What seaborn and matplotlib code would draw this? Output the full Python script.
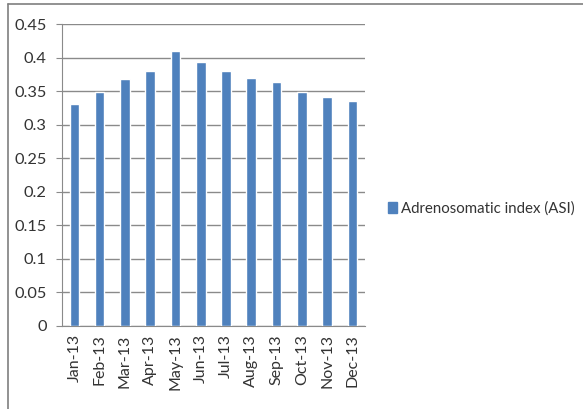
import matplotlib
matplotlib.use("Agg")
import matplotlib.pyplot as plt
import seaborn as sns
import pandas as pd
from matplotlib.lines import Line2D
from matplotlib.patches import Patch

months = ["Jan-13", "Feb-13", "Mar-13", "Apr-13", "May-13", "Jun-13",
          "Jul-13", "Aug-13", "Sep-13", "Oct-13", "Nov-13", "Dec-13"]
asi = [0.331, 0.349, 0.368, 0.380, 0.410, 0.394,
       0.380, 0.369, 0.363, 0.349, 0.341, 0.336]
series_name = "Adrenosomatic index (ASI)"
yticks = [0, 0.05, 0.1, 0.15, 0.2, 0.25, 0.3, 0.35, 0.4, 0.45]
ytick_labels = ["0", "0.05", "0.1", "0.15", "0.2", "0.25", "0.3", "0.35", "0.4", "0.45"]

sns.set_style("white")
plt.rcParams['font.family'] = ['Lato', 'DejaVu Sans']

df = pd.DataFrame({"month": months, "value": asi})
color = "#4F81BD"
txt = "#333333"

fig = plt.figure(figsize=(5.83, 4.09), dpi=100)
ax = fig.add_axes([0.106, 0.203, 0.520, 0.738])
sns.barplot(data=df, x="month", y="value", color=color, width=0.38,
            saturation=1, ax=ax, zorder=3)

ax.set_ylim(0, 0.45)
ax.set_xlim(-0.5, len(months) - 0.5)
ax.set_yticks(yticks)
ax.set_yticklabels(ytick_labels, fontsize=11.8, color=txt)
ax.set_xticks(range(len(months)))
ax.set_xticklabels(months, rotation=90, fontsize=11.5, color=txt)
ax.set_xlabel("")
ax.set_ylabel("")
ax.grid(axis="y", color="#8a8a8a", linewidth=1, zorder=0)
for s in ["top", "right"]:
    ax.spines[s].set_visible(False)
ax.spines["left"].set_color("#8a8a8a")
ax.spines["bottom"].set_color("#8a8a8a")
ax.tick_params(axis="y", length=4, color="#8a8a8a", direction="out", pad=7)
ax.tick_params(axis="x", length=0, pad=6)
ax.set_xticks([i - 0.5 for i in range(len(months) + 1)], minor=True)
ax.tick_params(axis="x", which="minor", length=5, color="#8a8a8a", direction="out")
ax.tick_params(axis="y", which="major", left=True)

leg = fig.legend(handles=[Patch(facecolor=color, edgecolor=color, label=series_name)],
                 loc="center left", bbox_to_anchor=(0.665, 0.49), frameon=False,
                 fontsize=10.8, handlelength=0.6, handleheight=0.7, handletextpad=0.3,
                 borderaxespad=0, borderpad=0)
for t in leg.get_texts():
    t.set_color(txt)

fig.add_artist(Line2D([8 / 583, 1.0], [1 - 4 / 409, 1 - 4 / 409], transform=fig.transFigure,
                      color="#7f7f7f", linewidth=1.2))
fig.add_artist(Line2D([8 / 583, 8 / 583], [0, 1 - 4 / 409], transform=fig.transFigure,
                      color="#7f7f7f", linewidth=1.2))

fig.savefig("out.png", dpi=100)
